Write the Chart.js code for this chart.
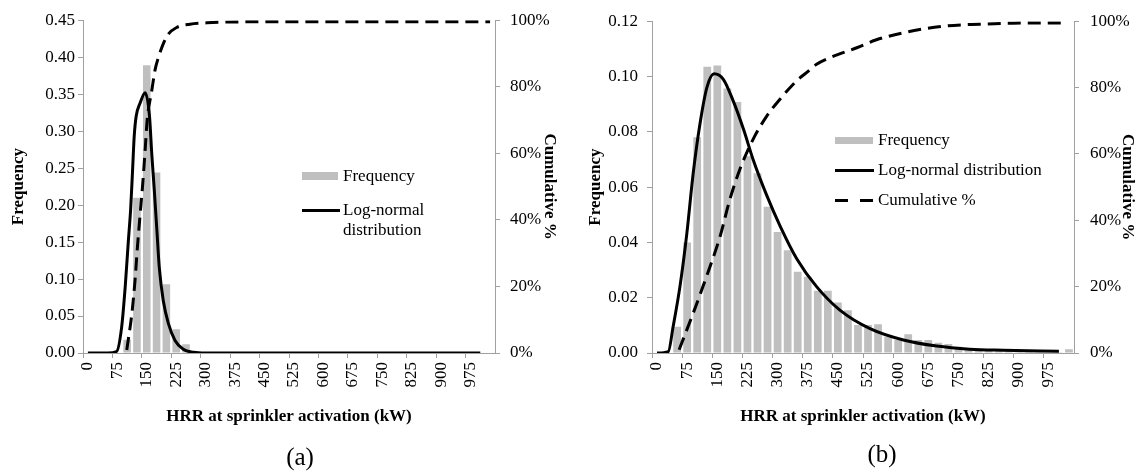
<!DOCTYPE html>
<html>
<head>
<meta charset="utf-8">
<script src="https://cdn.jsdelivr.net/npm/chart.js@4.4.1/dist/chart.umd.min.js"></script>
<style>
  body { margin: 0; width: 1138px; height: 473px; background: #fff; position: relative; overflow: hidden;
         font-family: "Liberation Serif", "Times New Roman", serif; color: #000; }
  canvas { position: absolute; top: 0; }
  .leg { position: absolute; font-size: 17px; line-height: 20px; white-space: nowrap; }
  .sw { position: absolute; }
  .cap { position: absolute; font-size: 25px; transform: translateX(-50%); }
</style>
</head>
<body>
<canvas id="chartA" width="565" height="473" style="left:0"></canvas>
<canvas id="chartB" width="563" height="473" style="left:575px"></canvas>

<!-- legend (a) -->
<div class="sw" style="left:302px;top:172px;width:36px;height:8px;background:#bfbfbf"></div>
<div class="leg" style="left:343px;top:166px">Frequency</div>
<div class="sw" style="left:302px;top:209px;width:38px;height:3px;background:#000"></div>
<div class="leg" style="left:343px;top:200px">Log-normal<br>distribution</div>

<!-- legend (b) -->
<div class="sw" style="left:835px;top:137px;width:38px;height:7px;background:#bfbfbf"></div>
<div class="leg" style="left:878px;top:130px">Frequency</div>
<div class="sw" style="left:835px;top:169px;width:39px;height:3px;background:#000"></div>
<div class="leg" style="left:878px;top:160px">Log-normal distribution</div>
<div class="sw" style="left:835px;top:199px;width:13px;height:3px;background:#000"></div>
<div class="sw" style="left:860px;top:199px;width:13px;height:3px;background:#000"></div>
<div class="leg" style="left:878px;top:190px">Cumulative %</div>

<div class="cap" style="left:300px;top:443px">(a)</div>
<div class="cap" style="left:882px;top:440px">(b)</div>

<script>
// HRR bins (kW), 25 kW wide
const bins = [0, 25, 50, 75, 100, 125, 150, 175, 200, 225, 250, 275, 300, 325, 350, 375, 400, 425,
  450, 475, 500, 525, 550, 575, 600, 625, 650, 675, 700, 725, 750, 775, 800, 825, 850, 875,
  900, 925, 950, 975, 1000, 1025];
const labelEvery = 3;

// (a)
const freqA = [0, 0, 0, 0, 0.018, 0.21, 0.389, 0.244, 0.093, 0.032, 0.012, 0, 0, 0, 0, 0, 0, 0,
  0, 0, 0, 0, 0, 0, 0, 0, 0, 0, 0, 0, 0, 0, 0, 0, 0, 0, 0, 0, 0, 0, 0, 0];
const logNormAx = [0, 50, 73, 86, 95, 103, 109, 114, 118, 123, 133, 146, 157, 163, 169, 176, 182, 192, 205, 222, 243, 269, 300, 1000];
const logNormAy = [0, 0, 0.002, 0.035, 0.089, 0.151, 0.195, 0.249, 0.293, 0.32, 0.338, 0.352, 0.32, 0.267, 0.222, 0.164, 0.115, 0.071, 0.04, 0.017, 0.005, 0.001, 0, 0];
const cumAx = [99, 112, 120, 126, 133, 140, 146, 151, 163, 171, 180, 192, 205, 226, 260, 303, 400, 1025];
const cumAy = [0.009, 0.118, 0.217, 0.315, 0.415, 0.513, 0.612, 0.70, 0.79, 0.85, 0.889, 0.929, 0.958, 0.978, 0.988, 0.992, 0.995, 0.995];

// (b)
const freqB = [0, 0, 0.0095, 0.040, 0.078, 0.1035, 0.104, 0.0957, 0.0908, 0.0712, 0.065, 0.0529,
  0.0438, 0.0372, 0.0294, 0.0276, 0.0225, 0.0225, 0.0183, 0.0155, 0.0101, 0.0101, 0.0104, 0.0059,
  0.0047, 0.0068, 0.0047, 0.0047, 0.0037, 0.0033, 0.0023, 0.0017, 0.0013, 0.0010, 0.0008, 0.0006,
  0.0005, 0.0004, 0.0003, 0.0002, 0.0001, 0.0014];
const logNormBx = [0, 28, 40, 57, 74, 90, 107, 124, 142, 165, 190, 215, 239, 273, 306, 348, 397, 455, 530, 613, 696, 778, 861, 1000];
const logNormBy = [0, 0.0005, 0.0095, 0.024, 0.043, 0.065, 0.083, 0.096, 0.101, 0.099, 0.091, 0.081, 0.070, 0.057, 0.046, 0.034, 0.024, 0.0155, 0.0088, 0.0047, 0.0025, 0.0014, 0.001, 0.0006];
const cumBx = [55, 90, 123, 157, 181, 206, 239, 273, 306, 347, 372, 397, 430, 497, 546, 637, 721, 803, 886, 1020];
const cumBy = [0.01, 0.12, 0.23, 0.352, 0.462, 0.553, 0.644, 0.714, 0.765, 0.82, 0.845, 0.87, 0.89, 0.92, 0.944, 0.971, 0.986, 0.991, 0.994, 0.995];

const axisGray = "#a0a0a0";
const font = { family: "'Liberation Serif', 'Times New Roman', serif", size: 17 };
const bold = { ...font, weight: "bold" };

function pairs(xs, ys) {
  return xs.map((x, i) => ({ x: x, y: ys[i] }));
}

function makeChart(id, freq, lnX, lnY, cX, cY, yMax, yStep, lay) {
  new Chart(document.getElementById(id), {
    type: "bar",
    data: {
      labels: bins,
      datasets: [
        {
          type: "line", xAxisID: "xl", yAxisID: "y", order: 0,
          data: pairs(lnX, lnY),
          borderColor: "#000", borderWidth: 3, pointRadius: 0,
          cubicInterpolationMode: "monotone",
        },
        {
          type: "line", xAxisID: "xl", yAxisID: "y2", order: 1,
          data: pairs(cX, cY),
          borderColor: "#000", borderWidth: 3, borderDash: [13, 7], pointRadius: 0,
          cubicInterpolationMode: "monotone",
        },
        {
          type: "bar", data: freq, xAxisID: "x", yAxisID: "y", order: 2,
          backgroundColor: "#bfbfbf", grouped: false,
          barPercentage: 1, categoryPercentage: 0.77,
        },
      ],
    },
    options: {
      responsive: false,
      animation: false,
      layout: { padding: { top: lay.top, bottom: lay.bottom, left: 0, right: 0 } },
      plugins: { legend: { display: false }, tooltip: { enabled: false } },
      scales: {
        x: {
          type: "category", offset: true,
          afterFit: (s) => { s.height = 78; },
          border: { display: true, color: axisGray },
          grid: {
            offset: true, drawOnChartArea: false, tickLength: 5,
            tickColor: (c) => (c.index % labelEvery === 0 ? axisGray : "rgba(0,0,0,0)"),
          },
          ticks: {
            autoSkip: false, minRotation: 90, maxRotation: 90, padding: 4,
            color: "#000", font: font,
            callback: function (v, i) { return i % labelEvery === 0 ? String(bins[i]) : ""; },
          },
          title: { display: true, text: "HRR at sprinkler activation (kW)", color: "#000", font: bold, padding: { top: 0, bottom: 4 } },
        },
        xl: {
          type: "linear", display: false, offset: false, grid: { offset: false },
          min: -12.5, max: bins[bins.length - 1] + 12.5,
        },
        y: {
          position: "left", min: 0, max: yMax,
          afterFit: (s) => { s.width = lay.yw; },
          border: { display: true, color: axisGray },
          grid: { drawOnChartArea: false, tickLength: 5, tickColor: axisGray },
          ticks: { stepSize: yStep, padding: lay.ypad, color: "#000", font: font, callback: (v) => v.toFixed(2) },
          title: { display: true, text: "Frequency", color: "#000", font: bold, padding: { top: lay.ytp, bottom: 0 } },
        },
        y2: {
          position: "right", min: 0, max: 1,
          afterFit: (s) => { s.width = lay.y2w; },
          border: { display: true, color: axisGray },
          grid: { drawOnChartArea: false, tickLength: 5, tickColor: axisGray },
          ticks: { stepSize: 0.2, padding: lay.y2pad, color: "#000", font: font, callback: (v) => Math.round(v * 100) + "%" },
          title: { display: true, text: "Cumulative %", color: "#000", font: bold, padding: { top: lay.y2tp, bottom: 0 } },
        },
      },
    },
  });
}

makeChart("chartA", freqA, logNormAx, logNormAy, cumAx, cumAy, 0.45, 0.05,
  { top: 16, bottom: 42, yw: 83, ypad: 3, ytp: 8, y2w: 70, y2pad: 10, y2tp: 5 });
makeChart("chartB", freqB, logNormBx, logNormBy, cumBx, cumBy, 0.12, 0.02,
  { top: 21, bottom: 42, yw: 77, ypad: 9, ytp: 10, y2w: 64, y2pad: 11, y2tp: 0 });
</script>
</body>
</html>
